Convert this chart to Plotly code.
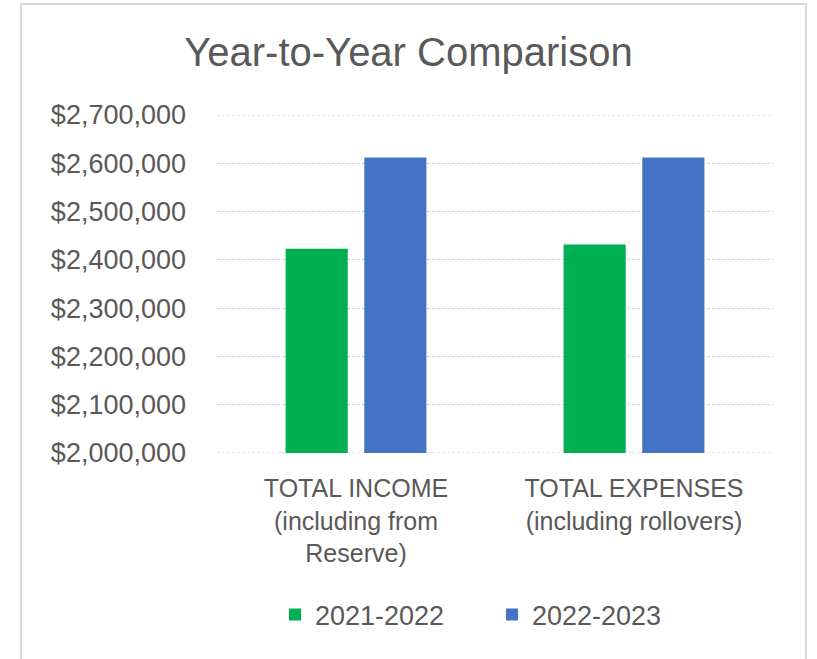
import plotly.graph_objects as go

categories = ["TOTAL INCOME<br>(including from<br>Reserve)",
              "TOTAL EXPENSES<br>(including rollovers)"]
series_names = ["2021-2022", "2022-2023"]
values_2021_2022 = [2423000, 2432000]
values_2022_2023 = [2612000, 2612000]
y_tick_values = [2000000, 2100000, 2200000, 2300000, 2400000, 2500000, 2600000, 2700000]
y_tick_labels = ["$2,000,000", "$2,100,000", "$2,200,000", "$2,300,000",
                 "$2,400,000", "$2,500,000", "$2,600,000", "$2,700,000"]
colors = ["#00B050", "#4472C4"]

W, H = 817, 659
L, R, T, B = 217, 44, 115, 206
plot_w = W - L - R
plot_h = H - T - B

def px_to_paper_x(px):
    return (px - L) / plot_w

def px_to_paper_y(py):
    return (H - B - py) / plot_h

fig = go.Figure()
for name, vals, col in zip(series_names, [values_2021_2022, values_2022_2023], colors):
    fig.add_trace(go.Bar(x=categories, y=vals, name=name, marker_color=col,
                         marker_line_width=0))

font_family = "Liberation Sans, Arial, sans-serif"
text_col = "#595959"
grid_col = "#cfcfcf"
grid_dash = "3px,2px"

edge_lines = [dict(type="line", xref="paper", yref="y", x0=0, x1=1,
                   y0=v, y1=v, line=dict(color=grid_col, width=1, dash=grid_dash),
                   layer="below")
              for v in (y_tick_values[0], y_tick_values[-1])]

fig.update_layout(
    width=W, height=H,
    margin=dict(l=L, r=R, t=T, b=B, autoexpand=False),
    paper_bgcolor="white", plot_bgcolor="white",
    barmode="group", bargap=0.434, bargroupgap=0.21,
    title=dict(text="Year-to-Year Comparison", x=0.5, xanchor="center",
               xref="container", y=1 - 52 / H, yanchor="middle", yref="container",
               font=dict(family=font_family, size=40, color=text_col)),
    font=dict(family=font_family, color=text_col),
    showlegend=True,
    legend=dict(orientation="h", x=px_to_paper_x(275), xanchor="left",
                y=px_to_paper_y(615), yanchor="middle",
                font=dict(family=font_family, size=27, color=text_col),
                entrywidth=172, entrywidthmode="pixels",
                bgcolor="rgba(0,0,0,0)"),
    xaxis=dict(showgrid=False, showline=False, zeroline=False,
               ticks="", ticklabelstandoff=18,
               tickfont=dict(family=font_family, size=25, color=text_col)),
    yaxis=dict(range=[y_tick_values[0], y_tick_values[-1]], tickvals=y_tick_values,
               ticktext=y_tick_labels,
               showgrid=True, gridcolor=grid_col, gridwidth=1, griddash=grid_dash,
               showline=False, zeroline=False, ticks="", ticklabelstandoff=30,
               tickfont=dict(family=font_family, size=27, color=text_col)),
    shapes=[dict(type="rect", xref="paper", yref="paper",
                 x0=px_to_paper_x(21), x1=px_to_paper_x(806),
                 y0=px_to_paper_y(680), y1=px_to_paper_y(4),
                 line=dict(color="#d9d9d9", width=2), fillcolor="rgba(0,0,0,0)",
                 layer="below")] + edge_lines,
)

fig.write_html("out.html")
